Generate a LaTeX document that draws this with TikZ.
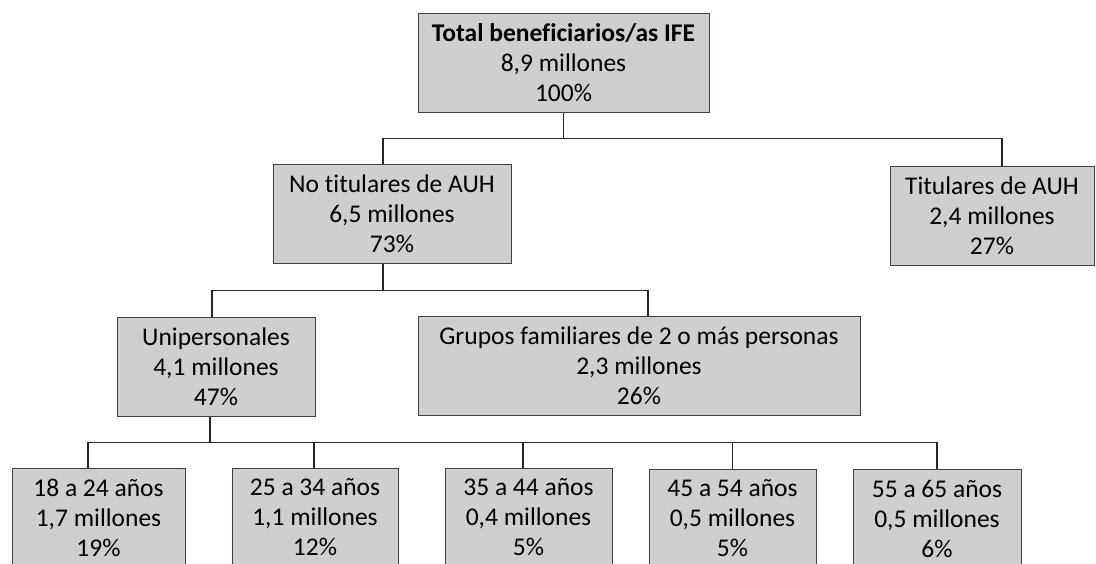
\documentclass[tikz,border=0pt]{standalone}
\usepackage{fontspec}
\setmainfont{Carlito}[Ligatures=NoCommon]
\definecolor{boxfill}{HTML}{D0CECE}
\definecolor{boxline}{HTML}{404040}
\tikzset{
    orgbox/.style={draw=boxline, fill=boxfill, line width=1pt, align=center, inner sep=0pt,
        minimum height=99pt, font=\fontsize{25.5}{30}\selectfont},
    link/.style={line width=1.4pt, black!85}
}
\begin{document}
\begin{tikzpicture}[x=1pt, y=-1pt]
    \useasboundingbox (0, 0) rectangle (1096, 563);
    \node[orgbox, minimum width=291pt] (total) at (563.5, 62.5) {\textbf{Total beneficiarios/as IFE}\\8,9 millones\\100\%};
    \node[orgbox, minimum width=238pt] (notit) at (392, 213.5) {No titulares de AUH\\6,5 millones\\73\%};
    \node[orgbox, minimum width=204pt] (tit) at (992, 215.5) {Titulares de AUH\\2,4 millones\\27\%};
    \node[orgbox, minimum width=198pt] (unip) at (216, 366.5) {Unipersonales\\4,1 millones\\47\%};
    \node[orgbox, minimum width=442pt] (grupos) at (639, 365.5) {Grupos familiares de 2 o más personas\\2,3 millones\\26\%};
    \node[orgbox, minimum width=173pt] (edad1) at (98.5, 517.5) {18 a 24 años\\1,7 millones\\19\%};
    \node[orgbox, minimum width=166pt] (edad2) at (315, 517.5) {25 a 34 años\\1,1 millones\\12\%};
    \node[orgbox, minimum width=167pt] (edad3) at (528.5, 517.5) {35 a 44 años\\0,4 millones\\5\%};
    \node[orgbox, minimum width=167pt] (edad4) at (732.5, 518.5) {45 a 54 años\\0,5 millones\\5\%};
    \node[orgbox, minimum width=168pt] (edad5) at (937, 518.5) {55 a 65 años\\0,5 millones\\6\%};
    \draw[link] (total.south) -- ++(0, 26) -| ([xshift=-9pt]notit.north);
    \draw[link] (total.south) -- ++(0, 26) -| ([xshift=10pt]tit.north);
    \draw[link] ([xshift=-9pt]notit.south) -- ++(0, 27) -| ([xshift=-4pt]unip.north);
    \draw[link] ([xshift=-9pt]notit.south) -- ++(0, 27) -| ([xshift=9pt]grupos.north);
    \draw[link] ([xshift=-6pt]unip.south) -- ++(0, 26) -| ([xshift=-10.5pt]edad1.north);
    \draw[link] ([xshift=-6pt]unip.south) -- ++(0, 26) -| ([xshift=-1pt]edad2.north);
    \draw[link] ([xshift=-6pt]unip.south) -- ++(0, 26) -| ([xshift=-5.5pt]edad3.north);
    \draw[link] ([xshift=-6pt]unip.south) -- ++(0, 26) -| (edad4.north);
    \draw[link] ([xshift=-6pt]unip.south) -- ++(0, 26) -| (edad5.north);
\end{tikzpicture}
\end{document}
